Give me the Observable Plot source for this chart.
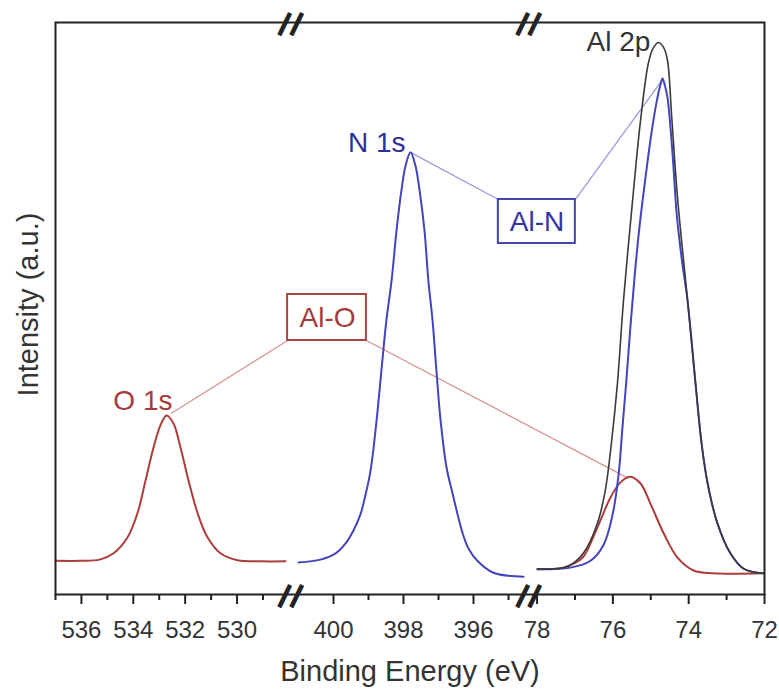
<!DOCTYPE html>
<html><head><meta charset="utf-8">
<script src="https://cdn.jsdelivr.net/npm/d3@7"></script>
<script src="https://cdn.jsdelivr.net/npm/@observablehq/plot@0.6"></script>
<style>body{margin:0;background:#fff}</style>
</head><body><div id="chart"></div>
<script>
// Broken binding-energy axis: three windows (eV)
const axisSegments = [537, 527.9, 401.2, 394.4, 78.2, 72];
const axisBreaks = [527.9, 394.4];
const majorTicks = [536, 534, 532, 530, 400, 398, 396, 78, 76, 74, 72];
const minorTicks = [537, 535, 533, 531, 529, 399, 397, 395, 77, 75, 73];

// O 1s (Al-O)
const o1sEnergy = [537.0, 536.0, 535.3, 534.76, 534.22, 533.84, 533.53, 533.22, 532.95, 532.72, 532.45, 532.18, 531.87, 531.52, 531.14, 530.64, 529.98, 529.1, 528.13];
const o1sIntensity = [5.9, 5.9, 6.1, 7.2, 10.0, 14.2, 19.9, 25.7, 29.6, 31.3, 29.9, 25.7, 19.9, 14.2, 10.0, 7.2, 6.0, 5.8, 5.8];

// N 1s (Al-N)
const n1sEnergy = [401.0, 400.37, 399.94, 399.66, 399.43, 399.23, 399.09, 398.94, 398.77, 398.63, 398.49, 398.34, 398.2, 398.06, 397.94, 397.8, 397.66, 397.54, 397.4, 397.29, 397.17, 397.06, 396.94, 396.77, 396.6, 396.31, 396.14, 395.89, 395.43, 394.57];
const n1sIntensity = [5.6, 6.1, 7.2, 8.9, 11.2, 14.0, 17.3, 21.7, 30.4, 39.2, 47.9, 54.9, 63.6, 70.6, 75.0, 77.3, 75.0, 70.6, 63.6, 54.9, 47.9, 39.2, 30.4, 22.2, 17.7, 10.7, 8.0, 5.9, 3.8, 3.1];

// Al 2p total
const al2pEnergy = [77.99, 77.2, 76.78, 76.41, 76.2, 76.04, 75.88, 75.72, 75.48, 75.27, 75.06, 74.93, 74.80, 74.66, 74.56, 74.45, 74.30, 74.03, 73.82, 73.66, 73.50, 73.24, 72.90, 72.55, 72.03];
const al2pIntensity = [4.5, 4.9, 7.2, 12.4, 18.2, 26.4, 36.9, 51.4, 68.9, 82.9, 93.0, 95.6, 96.5, 95.6, 93.4, 83.7, 69.8, 51.4, 36.9, 26.4, 19.4, 12.4, 7.2, 4.5, 3.7];

// Al 2p, Al-N component
const alnEnergy = [77.99, 77.12, 76.59, 76.25, 76.01, 75.85, 75.75, 75.64, 75.54, 75.43, 75.30, 75.14, 74.98, 74.85, 74.74, 74.69, 74.64, 74.56, 74.48, 74.40, 74.32, 74.19, 74.03, 73.82, 73.66, 73.50, 73.24, 72.90, 72.55, 72.03];
const alnIntensity = [4.4, 4.7, 5.9, 8.6, 13.9, 20.9, 29.0, 37.8, 46.6, 55.4, 64.2, 72.9, 80.8, 86.0, 89.3, 90.2, 89.3, 86.9, 81.6, 74.6, 66.8, 59.0, 51.4, 36.9, 26.4, 19.4, 12.4, 7.2, 4.5, 3.7];

// Al 2p, Al-O component
const aloEnergy = [77.99, 77.30, 77.04, 76.78, 76.41, 76.06, 75.80, 75.54, 75.27, 75.01, 74.66, 74.30, 73.87, 73.35, 72.03];
const aloIntensity = [4.4, 4.7, 5.4, 6.6, 11.7, 17.0, 19.6, 20.6, 19.4, 15.9, 10.7, 6.5, 4.2, 3.7, 3.7];

// Peak labels (text ends at given point)
const peakText = ["O 1s", "N 1s", "Al 2p"];
const peakTextE = [532.49, 397.94, 75.01];
const peakTextI = [32.2, 77.3, 95.1];

// Boxed assignment labels
const boxText = ["Al-O", "Al-N"];
const boxTextE = [400.17, 78.0];
const boxTextI = [48.4, 65.2];
const boxE1 = [528.05, 395.29];
const boxE2 = [399.06, 76.99];
const boxI1 = [52.45, 69.06];
const boxI2 = [44.4, 61.36];

// Connector lines (box corner -> peak)
const connE1 = [528.05, 399.06, 395.29, 76.99];
const connI1 = [44.4, 44.4, 69.06, 69.06];
const connE2 = [532.56, 75.59, 397.8, 74.69];
const connI2 = [31.6, 20.3, 77.3, 90.0];
const connGroup = ["O", "O", "N", "N"];

const RED = "#ad3d3d", BLUE = "#4444bc", RED_LIGHT = "#d99494", BLUE_LIGHT = "#9a9ae0";

const zip = (e, i) => e.map((v, k) => ({e: v, i: i[k]}));
const o1s = zip(o1sEnergy, o1sIntensity);
const n1s = zip(n1sEnergy, n1sIntensity);
const al2p = zip(al2pEnergy, al2pIntensity);
const aln = zip(alnEnergy, alnIntensity);
const alo = zip(aloEnergy, aloIntensity);
const peaks = peakText.map((t, k) => ({t, e: peakTextE[k], i: peakTextI[k]}));
const boxes = boxText.map((t, k) => ({t, e: boxTextE[k], i: boxTextI[k], x1: boxE1[k], x2: boxE2[k], y1: boxI1[k], y2: boxI2[k]}));
const conns = connE1.map((v, k) => ({x1: v, y1: connI1[k], x2: connE2[k], y2: connI2[k], g: connGroup[k]}));

const lineOpts = {x: "e", y: "i", curve: "catmull-rom", strokeLinejoin: "round"};
const slashOpts = (anchor, dx) => ({x: d => d, frameAnchor: anchor, text: () => "|", rotate: 26, dx, fontSize: 25, fontWeight: "bold", fill: "#222", stroke: "#222", strokeWidth: 1.2, lineAnchor: "middle", textAnchor: "middle"});

const chart = Plot.plot({
  width: 779, height: 691,
  marginLeft: 55, marginRight: 15, marginTop: 22, marginBottom: 97,
  style: {fontFamily: "'Liberation Sans', Arial, sans-serif", background: "#fff", overflow: "visible"},
  x: {type: "linear", domain: axisSegments, range: [55, 291, 291, 529, 529, 764]},
  y: {domain: [0, 100], range: [594, 22], axis: null},
  marks: [
    // connectors
    Plot.link(conns.filter(d => d.g === "O"), {x1: "x1", y1: "y1", x2: "x2", y2: "y2", stroke: RED_LIGHT, strokeWidth: 1.3}),
    Plot.link(conns.filter(d => d.g === "N"), {x1: "x1", y1: "y1", x2: "x2", y2: "y2", stroke: BLUE_LIGHT, strokeWidth: 1.3}),
    // spectra
    Plot.line(o1s, {...lineOpts, stroke: RED, strokeWidth: 2}),
    Plot.line(n1s, {...lineOpts, stroke: BLUE, strokeWidth: 2}),
    Plot.line(alo, {...lineOpts, stroke: RED, strokeWidth: 2}),
    Plot.line(aln, {...lineOpts, stroke: BLUE, strokeWidth: 2}),
    Plot.line(al2p, {...lineOpts, stroke: "#3a3a3a", strokeWidth: 1.6}),
    // boxes
    Plot.rect(boxes.slice(0, 1), {x1: "x1", x2: "x2", y1: "y1", y2: "y2", fill: "white", stroke: "#a84444", strokeWidth: 2}),
    Plot.rect(boxes.slice(1, 2), {x1: "x1", x2: "x2", y1: "y1", y2: "y2", fill: "white", stroke: "#4545b0", strokeWidth: 2}),
    Plot.text(boxes.slice(0, 1), {x: "e", y: "i", text: "t", fontSize: 28, fill: "#a53b3b", textAnchor: "middle", lineAnchor: "middle"}),
    Plot.text(boxes.slice(1, 2), {x: "e", y: "i", text: "t", fontSize: 28, fill: "#3434a4", textAnchor: "middle", lineAnchor: "middle"}),
    // peak labels
    Plot.text(peaks.slice(0, 1), {x: "e", y: "i", text: "t", fontSize: 28, fill: "#a53b3b", textAnchor: "end", lineAnchor: "bottom"}),
    Plot.text(peaks.slice(1, 2), {x: "e", y: "i", text: "t", fontSize: 28, fill: "#2f2f9c", textAnchor: "end", lineAnchor: "bottom"}),
    Plot.text(peaks.slice(2, 3), {x: "e", y: "i", text: "t", fontSize: 28, fill: "#333", textAnchor: "end", lineAnchor: "bottom"}),
    // frame and axis
    Plot.frame({stroke: "#222", strokeWidth: 2}),
    Plot.axisX({ticks: minorTicks, tickSize: 6, tickFormat: () => "", label: null, stroke: "#222", strokeWidth: 2}),
    Plot.axisX({ticks: majorTicks, tickSize: 10, tickPadding: 16, fontSize: 24, tickFormat: d => String(d), label: null, stroke: "#222", strokeWidth: 2, fill: "#333"}),
    // axis breaks
    Plot.text(axisBreaks, slashOpts("top", -6)),
    Plot.text(axisBreaks, slashOpts("top", 6)),
    Plot.text(axisBreaks, slashOpts("bottom", -6)),
    Plot.text(axisBreaks, slashOpts("bottom", 6)),
    // axis titles
    Plot.text(["Binding Energy (eV)"], {frameAnchor: "bottom", text: d => d, dy: 86, lineAnchor: "bottom", textAnchor: "middle", fontSize: 29, fill: "#333"}),
    Plot.text(["Intensity (a.u.)"], {frameAnchor: "left", text: d => d, dx: -27, dy: -4, rotate: -90, textAnchor: "middle", lineAnchor: "middle", fontSize: 29, fill: "#333"})
  ]
});
document.getElementById("chart").appendChild(chart);
</script>
</body></html>
